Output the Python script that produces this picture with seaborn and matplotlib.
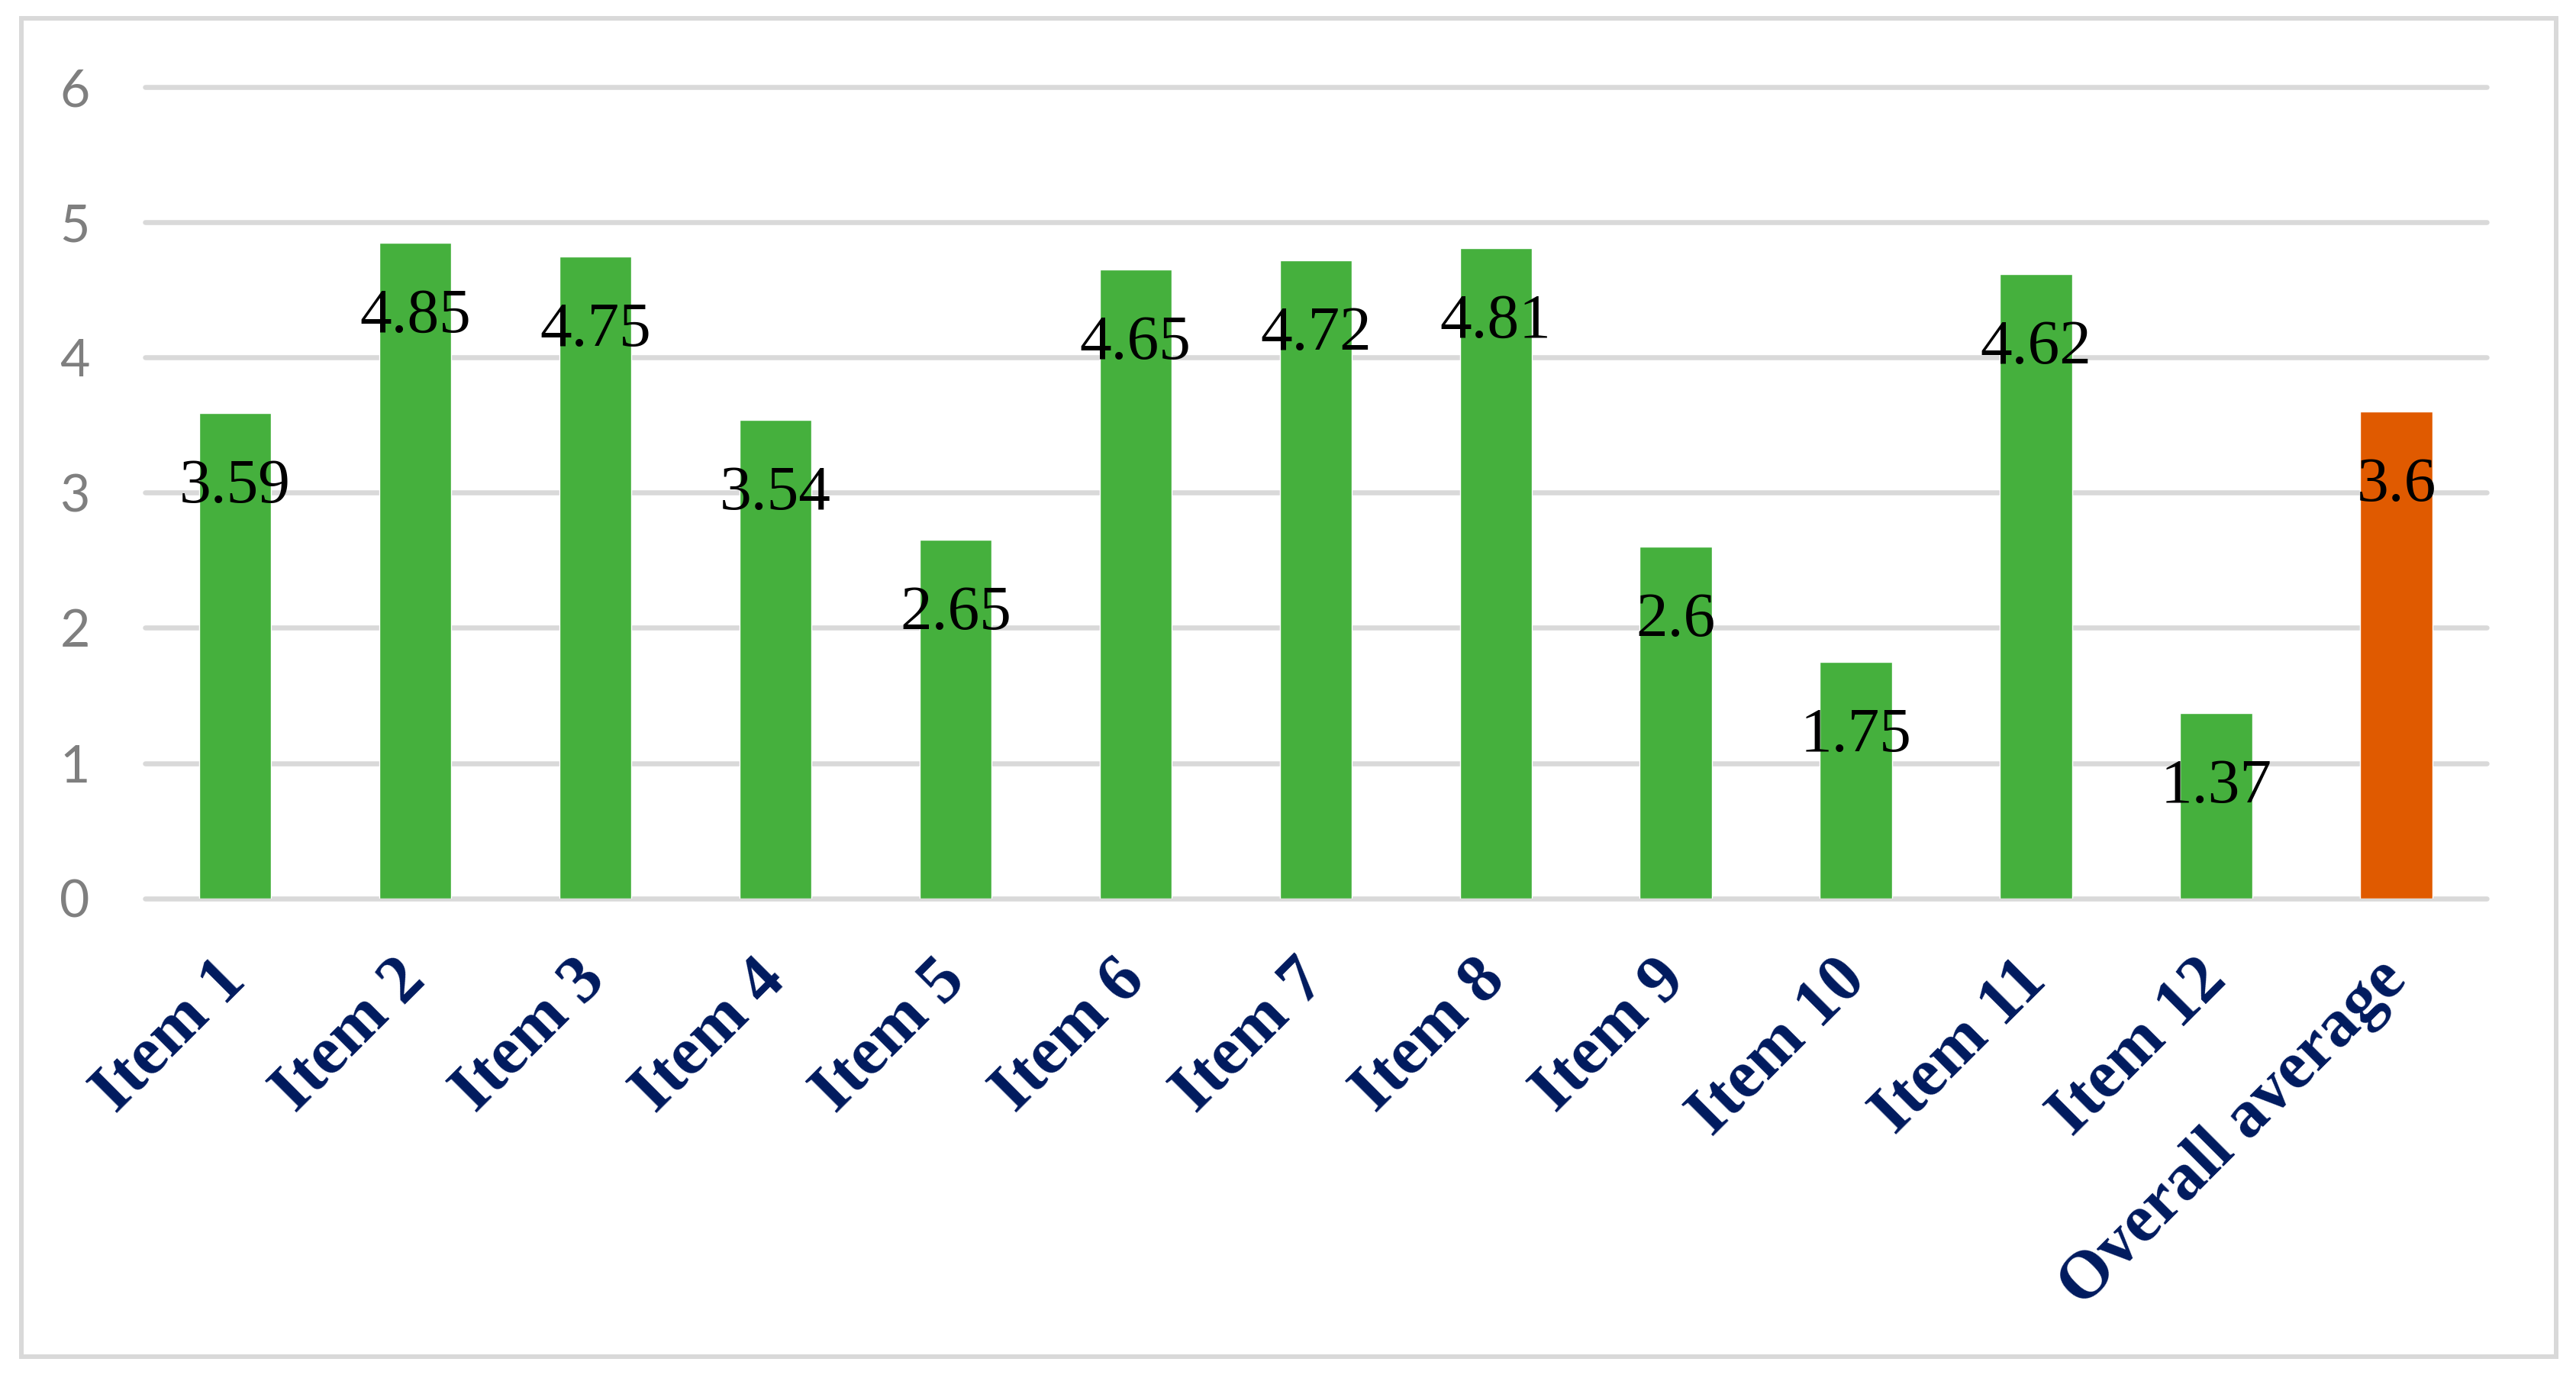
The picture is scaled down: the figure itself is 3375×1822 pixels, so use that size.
import matplotlib
matplotlib.use("Agg")
import matplotlib.pyplot as plt
import seaborn as sns
import pandas as pd
from matplotlib.patches import Rectangle

categories = ["Item 1", "Item 2", "Item 3", "Item 4", "Item 5", "Item 6",
              "Item 7", "Item 8", "Item 9", "Item 10", "Item 11", "Item 12",
              "Overall average"]
values = [3.59, 4.85, 4.75, 3.54, 2.65, 4.65, 4.72, 4.81, 2.6, 1.75, 4.62, 1.37, 3.6]
value_labels = ["3.59", "4.85", "4.75", "3.54", "2.65", "4.65", "4.72", "4.81",
                "2.6", "1.75", "4.62", "1.37", "3.6"]
y_ticks = [0, 1, 2, 3, 4, 5, 6]

GREEN = "#45B03D"
ORANGE = "#E05A00"
NAVY = "#001A5E"
GRID = "#D9D9D9"

sns.set_theme(style="white")
plt.rcParams["font.family"] = ["Liberation Serif", "DejaVu Serif"]

df = pd.DataFrame({"category": categories, "value": values})
palette = [GREEN] * (len(categories) - 1) + [ORANGE]

fig = plt.figure(figsize=(33.75, 18.22), dpi=100)
fig.patch.set_facecolor("white")
ax = fig.add_axes([0.05630, 0.35428, 0.90889, 0.58288])

sns.barplot(data=df, x="category", y="value", hue="category", palette=palette,
            legend=False, width=0.4, ax=ax, saturation=1, zorder=2)

ax.set_ylim(0, 6)
ax.set_xlim(-0.5, len(categories) - 0.5)
ax.set_yticks(y_ticks)
ax.set_yticklabels([str(t) for t in y_ticks])

for t in y_ticks:
    ax.axhline(t, color=GRID, lw=4.7, zorder=0.5, clip_on=False)

for s in ax.spines.values():
    s.set_visible(False)

ax.set_xlabel("")
ax.set_ylabel("")

ax.tick_params(axis="y", length=0, pad=52, labelsize=49, labelcolor="#7F7F7F")
for lab in ax.get_yticklabels():
    lab.set_fontfamily(["Lato", "DejaVu Sans"])

ax.tick_params(axis="x", length=0, pad=68)
ax.set_xticks(range(len(categories)))
ax.set_xticklabels(categories, rotation=45, ha="right", va="center",
                   rotation_mode="anchor", fontsize=64, fontweight="bold",
                   color=NAVY, family=["Liberation Serif", "DejaVu Serif"])

for i, (v, lab) in enumerate(zip(values, value_labels)):
    ax.annotate(lab, xy=(i, v), xytext=(0, -117), textcoords="offset pixels",
                ha="center", va="baseline", fontsize=60, color="black",
                family=["Liberation Serif", "DejaVu Serif"], zorder=5)

# outer chart border
fig.patches.append(Rectangle((28 / 3375, 1 - 1777 / 1822),
                             (3349 - 28) / 3375, (1777 - 24) / 1822,
                             transform=fig.transFigure, fill=False,
                             edgecolor=GRID, lw=4.3, zorder=0))

fig.savefig("out.png", dpi=100, facecolor="white")
